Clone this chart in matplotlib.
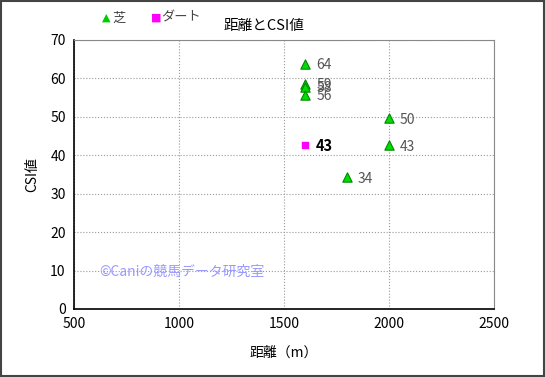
import matplotlib.pyplot as plt
from matplotlib.patches import Rectangle

plt.rcParams['font.family'] = ['Noto Sans CJK JP', 'DejaVu Sans']

# 芝
turf_dist = [1600, 1600, 1600, 1600, 1800, 2000, 2000]
turf_csi = [63.8, 58.6, 57.8, 55.8, 34.3, 49.6, 42.6]
turf_lbl = ['64', '59', '58', '56', '34', '50', '43']
# ダート
dirt_dist = [1600]
dirt_csi = [42.7]
dirt_lbl = ['43']

xticks = [500, 1000, 1500, 2000, 2500]
yticks = [0, 10, 20, 30, 40, 50, 60, 70]

fig = plt.figure(figsize=(5.45, 3.77), dpi=100)
ax = fig.add_axes([0.1358, 0.1804, 0.7706, 0.7135])

ax.scatter(turf_dist, turf_csi, marker='^', s=45, color='#00dd00',
           edgecolors='#008800', linewidths=0.8, zorder=3)
ax.scatter(dirt_dist, dirt_csi, marker='s', s=22, color='#ff00ff',
           edgecolors='#ff00ff', zorder=3)

for x, y, t in zip(turf_dist, turf_csi, turf_lbl):
    ax.annotate(t, (x, y), xytext=(8, -1), textcoords='offset points',
                va='center', fontsize=10, color='#555555')
for x, y, t in zip(dirt_dist, dirt_csi, dirt_lbl):
    ax.annotate(t, (x, y), xytext=(8, -1), textcoords='offset points',
                va='center', fontsize=10.5, color='black', fontweight='bold')

ax.set_xlim(500, 2500)
ax.set_ylim(0, 70)
ax.set_xticks(xticks)
ax.set_yticks(yticks)
ax.tick_params(length=0, labelsize=10, pad=6)
ax.grid(True, linestyle=':', color='#999999', linewidth=0.8)
ax.set_axisbelow(True)
ax.spines['top'].set_color('#888888')
ax.spines['right'].set_color('#888888')
ax.spines['left'].set_linewidth(1.2)
ax.spines['bottom'].set_linewidth(1.2)

ax.set_xlabel('距離（m）', fontsize=10, labelpad=10)
ax.set_ylabel('CSI値', fontsize=10, labelpad=8)

ax.text(0.06, 0.14, '©Caniの競馬データ研究室', transform=ax.transAxes,
        fontsize=10, color='#9999ff', va='center')

# legend and title at the top
fig.text(0.188, 0.952, '▲', color='#00cc00', fontsize=8, va='center', family=['DejaVu Sans'])
fig.text(0.206, 0.952, '芝', color='#444444', fontsize=9.5, va='center')
fig.text(0.277, 0.952, '■', color='#ff00ff', fontsize=8, va='center', family=['DejaVu Sans'])
fig.text(0.296, 0.952, 'ダート', color='#444444', fontsize=9.5, va='center')
fig.text(0.485, 0.932, '距離とCSI値', fontsize=10.5, ha='center', va='center')

fig.patches.append(Rectangle((0.002, 0.003), 0.996, 0.994, transform=fig.transFigure,
                             fill=False, edgecolor='#444444', linewidth=1.5))

fig.savefig('out.png', dpi=100)
